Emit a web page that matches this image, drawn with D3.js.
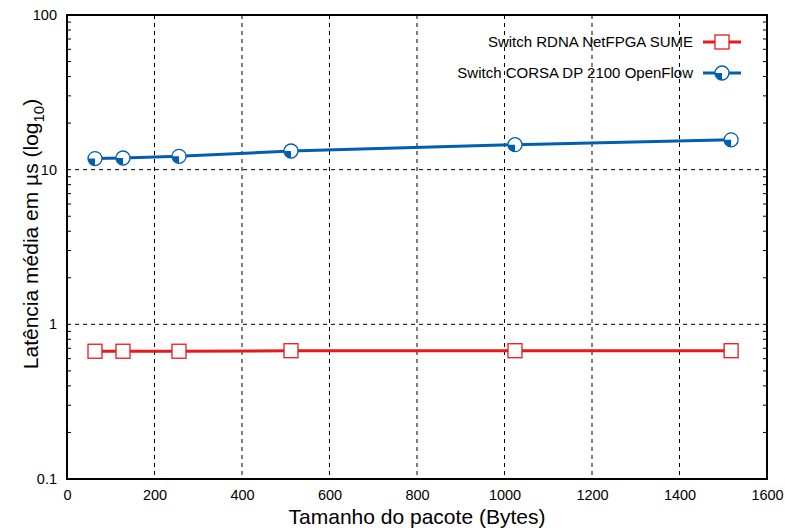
<!DOCTYPE html>
<html><head><meta charset="utf-8">
<script src="https://cdn.jsdelivr.net/npm/d3@7"></script>
<style>body{margin:0;background:#fff}text{font-family:"Liberation Sans",Arial,sans-serif}</style>
</head><body><svg id="c" width="785" height="528"></svg>
<script>
const sizes = [64, 128, 256, 512, 1024, 1518];
const rdna = [0.67, 0.67, 0.67, 0.675, 0.675, 0.675];
const corsa = [11.8, 11.9, 12.2, 13.2, 14.5, 15.6];
const seriesNames = ["Switch RDNA NetFPGA SUME", "Switch CORSA DP 2100 OpenFlow"];
const xTicks = [0, 200, 400, 600, 800, 1000, 1200, 1400, 1600];
const yTicks = [0.1, 1, 10, 100];
const yTickLabels = ["0.1", "1", "10", "100"];

const svg = d3.select("#c");
const L = 67, R = 767, T = 15, B = 479;
const x = d3.scaleLinear().domain([0, 1600]).range([L, R]);
const y = d3.scaleLog().domain([0.1, 100]).range([B, T]);
const red = "#e41a1c", blue = "#005fb0";
const FF = "Liberation Sans, Arial, sans-serif";

// grid
const g = svg.append("g");
xTicks.slice(1, -1).forEach(v => g.append("line").attr("x1", x(v)).attr("x2", x(v)).attr("y1", T).attr("y2", B)
  .attr("stroke", "#000").attr("stroke-width", 1).attr("stroke-dasharray", "4,4"));
yTicks.slice(1, -1).forEach(v => g.append("line").attr("x1", L).attr("x2", R).attr("y1", y(v)).attr("y2", y(v))
  .attr("stroke", "#000").attr("stroke-width", 1).attr("stroke-dasharray", "4,4"));

// minor ticks on log axis (left and right)
const minors = [];
[0.1, 1, 10].forEach(d => { for (let k = 2; k <= 9; k++) minors.push(d * k); });
minors.forEach(v => {
  g.append("line").attr("x1", L).attr("x2", L + 4).attr("y1", y(v)).attr("y2", y(v)).attr("stroke", "#000");
  g.append("line").attr("x1", R).attr("x2", R - 4).attr("y1", y(v)).attr("y2", y(v)).attr("stroke", "#000");
});

// axes with d3
svg.append("g").attr("transform", `translate(0,${B})`)
  .call(d3.axisBottom(x).tickValues(xTicks).tickFormat(d3.format("d")).tickSize(0).tickPadding(11))
  .call(a => a.select(".domain").remove())
  .selectAll("text").attr("font-size", 14.5).attr("fill", "#000").attr("font-family", FF);
svg.append("g").attr("transform", `translate(${L},0)`)
  .call(d3.axisLeft(y).tickValues(yTicks).tickFormat((d, i) => yTickLabels[i]).tickSize(0).tickPadding(10))
  .call(a => a.select(".domain").remove())
  .selectAll("text").attr("font-size", 14.5).attr("fill", "#000").attr("font-family", FF);

// border
svg.append("rect").attr("x", L).attr("y", T).attr("width", R - L).attr("height", B - T)
  .attr("fill", "none").attr("stroke", "#000").attr("stroke-width", 2);

// lines
const line = d3.line().x(d => x(d[0])).y(d => y(d[1]));
const dRed = sizes.map((s, i) => [s, rdna[i]]);
const dBlue = sizes.map((s, i) => [s, corsa[i]]);
svg.append("path").attr("d", line(dRed)).attr("fill", "none").attr("stroke", red).attr("stroke-width", 3);
svg.append("path").attr("d", line(dBlue)).attr("fill", "none").attr("stroke", blue).attr("stroke-width", 3);

function square(px, py) {
  svg.append("rect").attr("x", px - 7).attr("y", py - 7).attr("width", 14).attr("height", 14)
    .attr("fill", "#fff").attr("stroke", red).attr("stroke-width", 1.3);
}
function circ(px, py) {
  const r = 7;
  svg.append("circle").attr("cx", px).attr("cy", py).attr("r", r).attr("fill", "#fff").attr("stroke", blue).attr("stroke-width", 1.3);
  svg.append("path").attr("d", `M${px},${py} L${px - r},${py} A${r},${r} 0 0 0 ${px},${py + r} Z`).attr("fill", blue);
}
dRed.forEach(d => square(x(d[0]), y(d[1])));
dBlue.forEach(d => circ(x(d[0]), y(d[1])));

// legend
const legY = [42, 73];
seriesNames.forEach((n, i) => {
  svg.append("text").attr("x", 693).attr("y", legY[i] + 5).attr("text-anchor", "end").attr("font-size", 15).text(n);
  svg.append("line").attr("x1", 703).attr("x2", 741).attr("y1", legY[i]).attr("y2", legY[i])
    .attr("stroke", i === 0 ? red : blue).attr("stroke-width", 3);
  if (i === 0) square(722, legY[i]); else circ(722, legY[i]);
});

// axis labels
svg.append("text").attr("x", (L + R) / 2).attr("y", 524).attr("text-anchor", "middle").attr("font-size", 21).text("Tamanho do pacote (Bytes)");
const yl = svg.append("text").attr("transform", `translate(38,234) rotate(-90)`).attr("text-anchor", "middle").attr("font-size", 21);
yl.append("tspan").text("Latência média em µs (log");
yl.append("tspan").attr("font-size", 15).attr("dy", 6).text("10");
yl.append("tspan").attr("dy", -6).text(")");
</script></body></html>
